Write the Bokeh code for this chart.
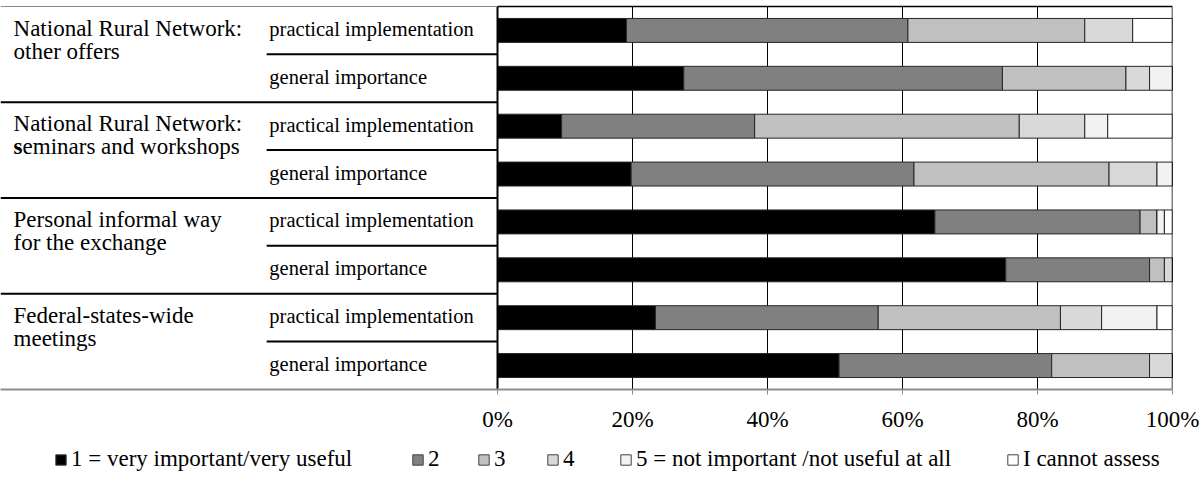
from bokeh.plotting import figure
from bokeh.layouts import column
from bokeh.models import (ColumnDataSource, Range1d, FixedTicker, PrintfTickFormatter,
                          Legend, LegendItem)
from bokeh.core.properties import value
from bokeh.embed import file_html
from bokeh.resources import INLINE

# Forms of exchange, each rated for practical implementation and general importance
group_lines = [
    ["National Rural Network:", "other offers"],
    ["National Rural Network:", "seminars and workshops"],
    ["Personal informal way", "for the exchange"],
    ["Federal-states-wide", "meetings"],
]
aspects = ["practical implementation", "general importance"] * 4

answers = ["1 = very important/very useful", "2", "3", "4",
           "5 = not important /not useful at all", "I cannot assess"]

# Share of answers per row (percent), rows from top to bottom
score_1 = [19.1, 27.6, 9.5, 19.8, 64.8, 75.3, 23.4, 50.6]
score_2 = [41.7, 47.2, 28.6, 41.9, 30.4, 21.3, 33.0, 31.5]
score_3 = [26.2, 18.3, 39.2, 28.9, 2.5, 2.2, 27.0, 14.5]
score_4 = [7.1, 3.5, 9.7, 7.1, 0.0, 1.2, 6.1, 3.4]
score_5 = [0.0, 3.4, 3.4, 2.3, 1.1, 0.0, 8.2, 0.0]
cannot_assess = [5.9, 0.0, 9.6, 0.0, 1.2, 0.0, 2.3, 0.0]

tick_values = [0, 20, 40, 60, 80, 100]

colors = ["#000000", "#808080", "#c0c0c0", "#d9d9d9", "#f2f2f2", "#ffffff"]
keys = ["s1", "s2", "s3", "s4", "s5", "s6"]

n_rows = len(aspects)
row_y = [i + 0.5 for i in range(n_rows)]

source = ColumnDataSource(dict(
    y=row_y, s1=score_1, s2=score_2, s3=score_3, s4=score_4,
    s5=score_5, s6=cannot_assess,
))

SERIF = value("Liberation Serif")
OUTLINE = "#262626"

# the frame reaches over the label table on the left, so the
# row labels sit on the same linear scale as the bars
p = figure(width=1203, height=434, output_backend="svg", toolbar_location=None,
           x_range=Range1d(-73.63, 100), y_range=Range1d(8, -0.0625),
           y_axis_location=None, min_border_left=0, min_border_right=31,
           min_border_top=3, min_border_bottom=45)
p.outline_line_color = None
p.background_fill_color = "white"
p.border_fill_color = "white"
p.xgrid.visible = False
p.ygrid.visible = False

p.hbar_stack(keys, y="y", height=0.5, source=source,
             fill_color=colors, line_color=OUTLINE, line_width=1)

# vertical gridlines of the percentage area
p.segment(x0=tick_values[1:-1], y0=[0] * 4, x1=tick_values[1:-1], y1=[n_rows] * 4,
          line_color="black", line_width=1, level="underlay")
# frame of the percentage area
p.segment(x0=[0, 0, 100], y0=[0, 0, 0], x1=[100, 0, 100], y1=[0, n_rows, n_rows],
          line_color="black", line_width=[1.5, 2, 1.5])

# label table: top rule, group rules, aspect rules
p.segment(x0=[-73.63], y0=[0], x1=[0], y1=[0], line_color="#8c8c8c", line_width=1)
p.segment(x0=[-73.63] * 3, y0=[2, 4, 6], x1=[0] * 3, y1=[2, 4, 6],
          line_color="black", line_width=2)
p.segment(x0=[-34.2] * 4, y0=[1, 3, 5, 7], x1=[0] * 4, y1=[1, 3, 5, 7],
          line_color="black", line_width=2)

# aspect labels
p.text(x=[-33.8] * n_rows, y=[y - 0.03 for y in row_y], text=aspects, text_font=SERIF,
       text_font_size="20.5px", text_baseline="middle", text_color="black")

# group labels, two lines each
gx, gy, gt = [], [], []
for g, (l1, l2) in enumerate(group_lines):
    top = 2 * g
    gx.append(-71.7); gy.append(top + 0.45); gt.append(l1)
    if l2.startswith("seminars"):
        p.text(x=[-71.7], y=[top + 0.93], text=["s"], text_font=SERIF,
               text_font_size="23px", text_font_style="bold",
               text_baseline="alphabetic", text_color="black")
        p.text(x=[-71.7], y=[top + 0.93], text=[l2[1:]], x_offset=9,
               text_font=SERIF, text_font_size="23px",
               text_baseline="alphabetic", text_color="black")
    else:
        gx.append(-71.7); gy.append(top + 0.93); gt.append(l2)
p.text(x=gx, y=gy, text=gt, text_font=SERIF, text_font_size="23px",
       text_baseline="alphabetic", text_color="black")

# percentage axis
ax = p.xaxis[0]
ax.ticker = FixedTicker(ticks=tick_values)
ax.formatter = PrintfTickFormatter(format="%d%%")
ax.axis_line_color = "#8c8c8c"
ax.axis_line_width = 2
ax.major_tick_line_color = "#8c8c8c"
ax.major_tick_out = 5
ax.major_tick_in = 0
ax.minor_tick_line_color = None
ax.major_label_standoff = 12
ax.major_label_text_font = "Liberation Serif"
ax.major_label_text_font_size = "23px"
ax.major_label_text_color = "black"

# legend strip below the chart; its swatch renderers sit outside the visible range
lp = figure(width=1203, height=50, output_backend="svg", toolbar_location=None,
            x_range=Range1d(0, 1203), y_range=Range1d(0, 50),
            x_axis_location=None, y_axis_location=None, min_border=0)
lp.outline_line_color = None
lp.xgrid.visible = False
lp.ygrid.visible = False
swatches = [lp.hbar(y=[-100], left=[0], right=[10], height=1, fill_color=c,
                    line_color="#404040", line_width=1) for c in colors]

legend_x = [54, 411, 477, 546, 619, 1006]
for label, r, lx in zip(answers, swatches, legend_x):
    lg = Legend(items=[LegendItem(label=label, renderers=[r])],
                location=(lx, 12), orientation="horizontal",
                glyph_width=13, glyph_height=13, label_standoff=4,
                padding=0, margin=0, spacing=0,
                border_line_color=None, background_fill_alpha=0,
                label_text_font="Liberation Serif", label_text_font_size="23px",
                label_text_color="black")
    lp.add_layout(lg, "center")

open("out.html", "w").write(file_html(column(p, lp, spacing=0), INLINE))
